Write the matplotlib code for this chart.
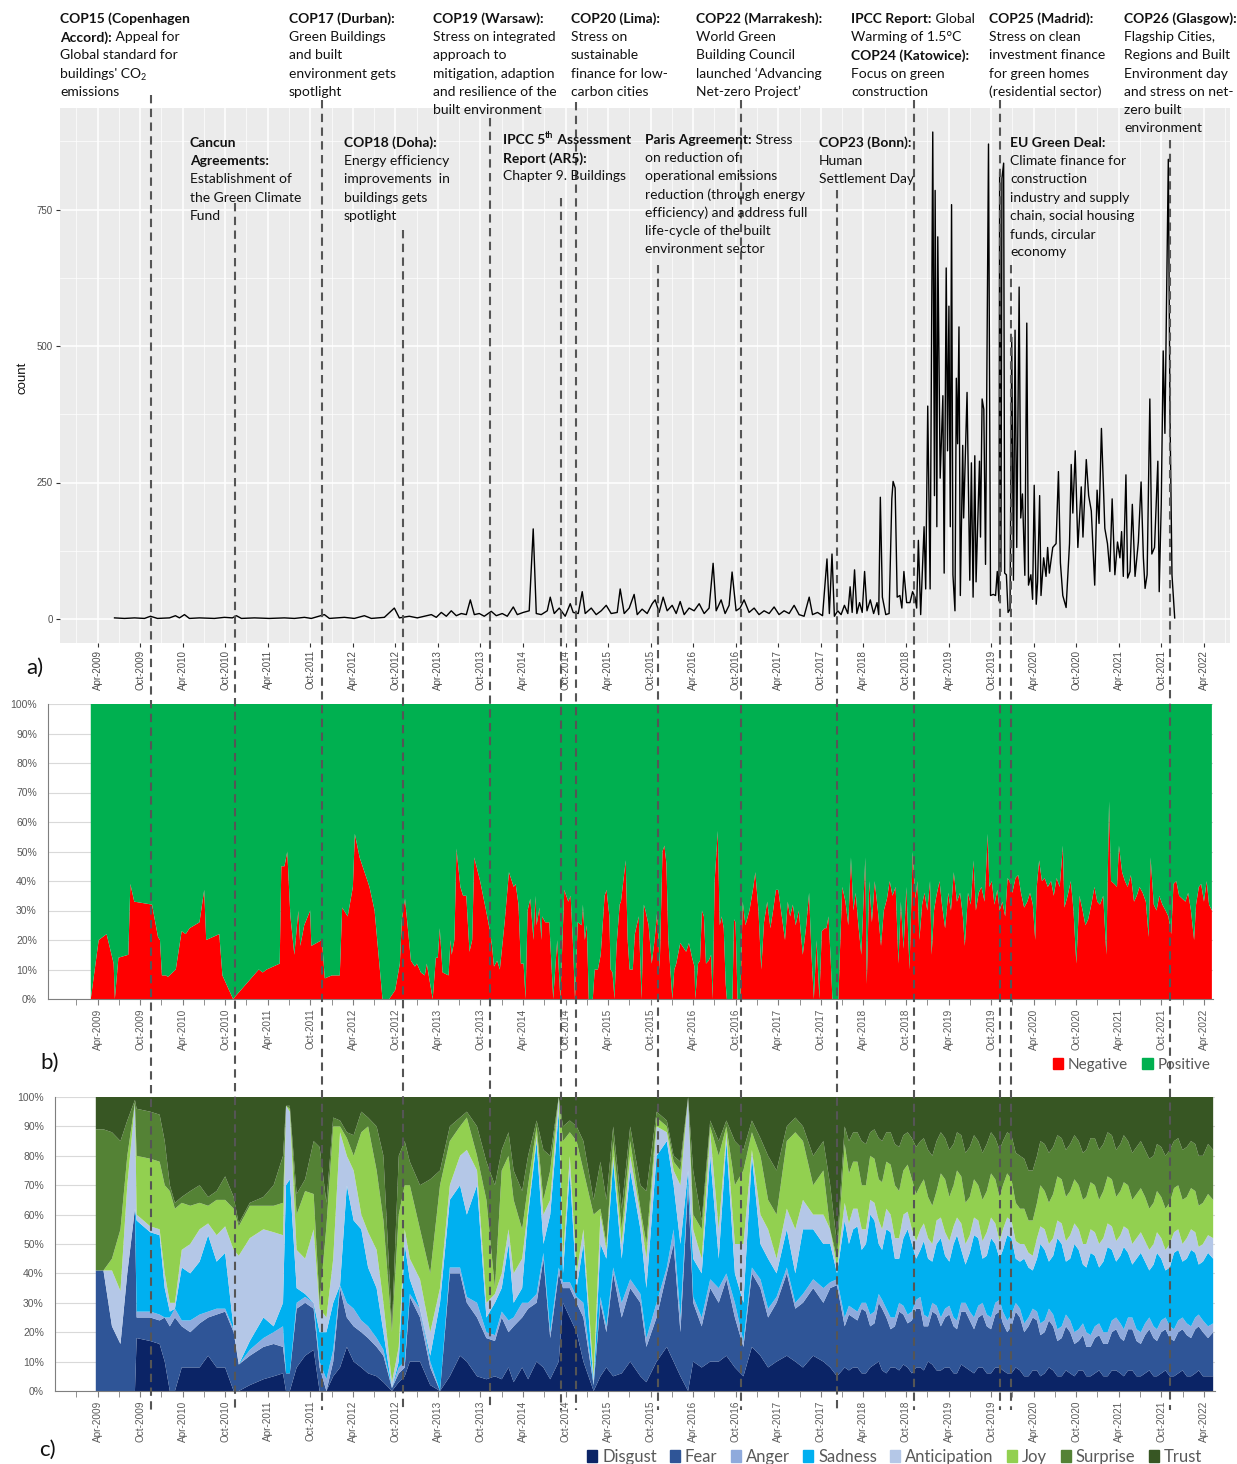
import numpy as np
import matplotlib

matplotlib.use("Agg")
import matplotlib.pyplot as plt
from matplotlib.lines import Line2D
from matplotlib.patches import Patch
from matplotlib.ticker import FixedLocator

W, H = 1237, 1464
TEXT_FONT = ["Lato", "DejaVu Sans"]
TICK_FONT = ["Liberation Sans", "DejaVu Sans"]
INK = "#111111"
plt.rcParams["font.family"] = TEXT_FONT

# ---- a) tweet count (decimal year, count) ----
count_years = [
    2009.450, 2009.567, 2009.685, 2009.802, 2009.872, 2009.955, 2010.096, 2010.166, 2010.213, 2010.272,
    2010.330, 2010.448, 2010.624, 2010.742, 2010.835, 2010.882, 2010.941, 2011.094, 2011.270, 2011.446,
    2011.564, 2011.681, 2011.763, 2011.916, 2011.975, 2012.151, 2012.268, 2012.386, 2012.468, 2012.621,
    2012.738, 2012.797, 2012.914, 2013.008, 2013.090, 2013.173, 2013.231, 2013.290, 2013.349, 2013.407,
    2013.466, 2013.525, 2013.584, 2013.631, 2013.678, 2013.736, 2013.795, 2013.877, 2013.936, 2014.006,
    2014.065, 2014.136, 2014.183, 2014.253, 2014.323, 2014.370, 2014.406, 2014.464, 2014.535, 2014.570,
    2014.617, 2014.676, 2014.746, 2014.805, 2014.840, 2014.899, 2014.946, 2014.981, 2015.052, 2015.110,
    2015.169, 2015.228, 2015.286, 2015.357, 2015.392, 2015.439, 2015.498, 2015.556, 2015.592, 2015.650,
    2015.709, 2015.768, 2015.803, 2015.850, 2015.897, 2015.944, 2016.003, 2016.050, 2016.097, 2016.144,
    2016.202, 2016.261, 2016.320, 2016.379, 2016.437, 2016.484, 2016.520, 2016.578, 2016.625, 2016.672,
    2016.707, 2016.754, 2016.801, 2016.848, 2016.907, 2016.966, 2017.024, 2017.083, 2017.142, 2017.201,
    2017.259, 2017.318, 2017.377, 2017.436,
    2017.494, 2017.553, 2017.613, 2017.652, 2017.711, 2017.770, 2017.822, 2017.850, 2017.881, 2017.909,
    2017.948, 2017.988, 2018.027, 2018.067, 2018.094, 2018.118, 2018.146, 2018.173, 2018.205, 2018.236,
    2018.264, 2018.292, 2018.331, 2018.370, 2018.410, 2018.430, 2018.449, 2018.473, 2018.513, 2018.552,
    2018.584, 2018.599, 2018.623, 2018.647, 2018.679, 2018.702, 2018.726, 2018.758, 2018.797, 2018.828,
    2018.856, 2018.876, 2018.896, 2018.923, 2018.963, 2018.982, 2019.006, 2019.034, 2019.065, 2019.085,
    2019.093, 2019.113, 2019.124, 2019.152, 2019.184, 2019.199, 2019.223, 2019.239, 2019.255, 2019.271,
    2019.286, 2019.302, 2019.326, 2019.342, 2019.357, 2019.373, 2019.389, 2019.417, 2019.428, 2019.468,
    2019.500, 2019.519, 2019.539, 2019.559, 2019.574, 2019.614, 2019.626, 2019.645, 2019.665, 2019.685,
    2019.720, 2019.744, 2019.776, 2019.803, 2019.823, 2019.843, 2019.851, 2019.866, 2019.878, 2019.898,
    2019.910, 2019.930, 2019.950, 2019.973, 2019.993, 2020.013, 2020.032, 2020.052, 2020.080, 2020.099,
    2020.119, 2020.147, 2020.170, 2020.190, 2020.218, 2020.238, 2020.257, 2020.281, 2020.297, 2020.321,
    2020.337, 2020.368, 2020.396, 2020.415, 2020.435, 2020.475, 2020.514, 2020.542, 2020.565, 2020.593,
    2020.632, 2020.672, 2020.692, 2020.711, 2020.739, 2020.770, 2020.810, 2020.830, 2020.869, 2020.897,
    2020.928, 2020.968, 2020.996, 2021.019, 2021.047, 2021.087, 2021.118, 2021.146, 2021.173, 2021.205,
    2021.236, 2021.264, 2021.284, 2021.304, 2021.335, 2021.355, 2021.383, 2021.410, 2021.442, 2021.481,
    2021.513, 2021.540, 2021.560, 2021.584, 2021.616, 2021.639, 2021.671, 2021.710, 2021.726, 2021.750,
    2021.773, 2021.793, 2021.833, 2021.852, 2021.876, 2021.908,
]
count_values = [
    2, 1, 2, 1, 5, 1, 2, 6, 2, 8,
    1, 2, 1, 3, 2, 6, 1, 2, 1, 2,
    1, 3, 1, 8, 1, 3, 1, 6, 1, 3,
    20, 2, 5, 2, 5, 8, 3, 12, 5, 15,
    6, 10, 8, 35, 8, 10, 5, 14, 6, 10,
    5, 22, 8, 12, 15, 165, 10, 8, 15, 40,
    10, 20, 5, 28, 12, 10, 50, 10, 20, 8,
    15, 25, 10, 12, 55, 10, 20, 45, 8, 18,
    10, 28, 35, 12, 40, 15, 25, 10, 32, 8,
    20, 15, 28, 10, 20, 102, 15, 35, 10, 25,
    86, 15, 20, 35, 12, 20, 8, 15, 10, 22,
    8, 15, 10, 25,
    8, 5, 40, 8, 12, 6, 110, 10, 119, 5,
    15, 8, 25, 10, 59, 12, 90, 10, 30, 12,
    87, 15, 35, 10, 30, 8, 223, 40, 8, 10,
    220, 252, 240, 40, 43, 20, 87, 30, 30, 50,
    40, 20, 144, 8, 169, 55, 390, 55, 892, 226,
    785, 169, 700, 258, 409, 84, 643, 308, 573, 169,
    759, 81, 15, 441, 321, 535, 43, 318, 185, 415,
    71, 286, 40, 299, 68, 289, 150, 403, 384, 100,
    870, 43, 45, 43, 87, 33, 819, 87, 807, 835,
    84, 81, 12, 18, 516, 71, 529, 131, 608, 185,
    229, 80, 542, 62, 81, 36, 245, 27, 68, 226,
    43, 112, 78, 131, 84, 131, 138, 270, 103, 43,
    21, 138, 283, 194, 308, 131, 242, 150, 292, 226,
    198, 62, 236, 175, 349, 166, 138, 87, 220, 81,
    141, 112, 160, 78, 264, 75, 87, 210, 78, 141,
    251, 112, 56, 81, 403, 119, 131, 289, 50, 210,
    491, 340, 842, 384, 81, 2,
]

# ---- b) sentiment share, negative % (positive is the rest) ----
sent_years = [
    2009.171, 2009.264, 2009.357, 2009.440, 2009.454, 2009.496, 2009.612, 2009.636, 2009.682, 2009.891,
    2009.961, 2009.984, 2010.007, 2010.054, 2010.077, 2010.170, 2010.239, 2010.286, 2010.332, 2010.448,
    2010.504, 2010.527, 2010.681, 2010.718, 2010.843, 2011.145, 2011.192, 2011.238, 2011.391, 2011.410,
    2011.447, 2011.480, 2011.517, 2011.563, 2011.610, 2011.633, 2011.679, 2011.749, 2011.763, 2011.888,
    2011.921, 2012.004, 2012.097, 2012.125, 2012.190, 2012.251, 2012.274, 2012.330, 2012.423, 2012.446,
    2012.506, 2012.599, 2012.678, 2012.748, 2012.803, 2012.827, 2012.864, 2012.933, 2012.980, 2013.003,
    2013.050, 2013.096, 2013.119, 2013.189, 2013.226, 2013.249, 2013.272, 2013.305, 2013.375, 2013.398,
    2013.412, 2013.444, 2013.468, 2013.514, 2013.546, 2013.584, 2013.621, 2013.653, 2013.677, 2013.746,
    2013.816, 2013.862, 2013.886, 2013.909, 2013.946, 2013.978, 2014.034, 2014.085, 2014.141, 2014.164,
    2014.197, 2014.225, 2014.257, 2014.280, 2014.304, 2014.336, 2014.373, 2014.396, 2014.410, 2014.443,
    2014.466, 2014.475, 2014.512, 2014.559, 2014.605, 2014.652, 2014.689, 2014.735, 2014.782, 2014.810,
    2014.838, 2014.861, 2014.893, 2014.940, 2014.954, 2014.977, 2015.000, 2015.023, 2015.070, 2015.093,
    2015.130, 2015.163, 2015.209, 2015.232, 2015.265, 2015.279, 2015.302, 2015.325, 2015.349, 2015.386,
    2015.401, 2015.457, 2015.480, 2015.503, 2015.540, 2015.564, 2015.610, 2015.643, 2015.670, 2015.689,
    2015.726, 2015.763, 2015.796, 2015.828, 2015.856, 2015.889, 2015.912, 2015.935, 2015.958, 2016.005,
    2016.028, 2016.051, 2016.098, 2016.121, 2016.167, 2016.200, 2016.237, 2016.265, 2016.274, 2016.307,
    2016.330, 2016.353, 2016.376, 2016.400, 2016.432, 2016.460, 2016.479, 2016.502, 2016.539, 2016.562,
    2016.585, 2016.609, 2016.632, 2016.646, 2016.711, 2016.730, 2016.748, 2016.771, 2016.804, 2016.832,
    2016.864, 2016.911, 2016.957, 2016.980, 2017.017, 2017.050, 2017.082, 2017.120, 2017.157, 2017.189,
    2017.222, 2017.250, 2017.282, 2017.329, 2017.361, 2017.389, 2017.421, 2017.454, 2017.491, 2017.538,
    2017.575, 2017.612, 2017.640, 2017.668, 2017.700, 2017.733, 2017.761, 2017.793, 2017.816, 2017.840,
    2017.863, 2017.886, 2017.956, 2017.979, 2018.002, 2018.039, 2018.072, 2018.104, 2018.132, 2018.160,
    2018.188, 2018.225, 2018.244, 2018.272, 2018.290, 2018.318, 2018.350, 2018.383, 2018.420, 2018.457,
    2018.490, 2018.527, 2018.559, 2018.592, 2018.629, 2018.662, 2018.690, 2018.722, 2018.755, 2018.792,
    2018.829, 2018.861, 2018.885, 2018.908, 2018.940, 2018.968, 2019.001, 2019.033, 2019.052, 2019.080,
    2019.108, 2019.145, 2019.173, 2019.210, 2019.247, 2019.279, 2019.312, 2019.349, 2019.386, 2019.419,
    2019.442, 2019.479, 2019.512, 2019.544, 2019.572, 2019.605, 2019.637, 2019.674, 2019.711, 2019.730,
    2019.758, 2019.790, 2019.823, 2019.851, 2019.883, 2019.916, 2019.944, 2019.967, 2020.000, 2020.037,
    2020.069, 2020.102, 2020.139, 2020.176, 2020.208, 2020.241, 2020.269, 2020.287, 2020.315, 2020.348,
    2020.380, 2020.417, 2020.455, 2020.487, 2020.520, 2020.557, 2020.594, 2020.612, 2020.650, 2020.687,
    2020.719, 2020.752, 2020.789, 2020.826, 2020.859, 2020.891, 2020.928, 2020.965, 2020.998, 2021.030,
    2021.068, 2021.105, 2021.137, 2021.160, 2021.198, 2021.230, 2021.253, 2021.290, 2021.323, 2021.355,
    2021.393, 2021.430, 2021.462, 2021.495, 2021.532, 2021.569, 2021.602, 2021.625, 2021.662, 2021.695,
    2021.727, 2021.764, 2021.801, 2021.834, 2021.867, 2021.894, 2021.927, 2021.960, 2021.997, 2022.034,
    2022.066, 2022.099, 2022.136, 2022.159, 2022.192, 2022.219, 2022.252, 2022.284, 2022.312, 2022.345,
]
negative_pct = [
    0, 20, 22, 12, 0, 14, 15, 39, 33, 32,
    21, 20, 8, 8, 7.5, 10, 23, 22, 24, 26,
    37, 20, 22, 8, 0, 10, 9, 10, 12, 45,
    45, 50, 28, 15, 30, 18, 25, 30, 18, 20,
    7, 8, 8, 31, 28, 38, 56, 48, 40, 38,
    30, 0, 0, 3, 12, 27, 34, 13, 11, 12,
    9, 8, 12, 0, 14, 14, 24, 9, 8, 20,
    15, 20, 51, 38, 35, 35, 16, 20, 48, 40,
    30, 23, 18, 11, 13, 10, 26, 43, 38, 39,
    32, 12, 12, 0, 30, 34, 20, 35, 25, 31,
    20, 28, 26, 26, 0, 20, 0, 37, 33, 35,
    18, 0, 26, 25, 32, 20, 25, 0, 0, 10,
    10, 15, 35, 37, 28, 10, 9, 0, 18, 32,
    33, 47, 20, 10, 10, 22, 28, 0, 32, 30,
    25, 12, 20, 30, 10, 50, 52, 46, 20, 0,
    10, 12, 19, 18, 16, 19, 14, 11, 0, 12,
    13, 30, 28, 12, 13, 15, 0, 40, 57, 25,
    28, 24, 5, 0, 0, 27, 26, 0, 0, 33,
    25, 30, 38, 43, 30, 10, 26, 33, 24, 30,
    37, 37, 30, 20, 33, 28, 32, 25, 30, 15,
    24, 36, 15, 0, 20, 0, 23, 24, 24, 28,
    15, 0, 0, 20, 38, 33, 25, 48, 30, 36,
    26, 15, 28, 48, 5, 40, 26, 40, 30, 18,
    30, 34, 40, 35, 38, 12, 33, 17, 38, 10,
    50, 34, 40, 20, 32, 36, 30, 40, 15, 30,
    35, 40, 32, 24, 36, 30, 43, 33, 36, 28,
    18, 36, 32, 47, 30, 36, 38, 33, 56, 38,
    40, 32, 37, 30, 33, 28, 41, 40, 36, 41,
    42, 36, 31, 33, 36, 32, 20, 38, 47, 40,
    41, 38, 40, 35, 41, 38, 52, 31, 35, 40,
    30, 12, 35, 30, 25, 27, 32, 38, 33, 32,
    35, 15, 67, 40, 39, 38, 52, 43, 40, 38,
    42, 33, 35, 38, 36, 33, 21, 48, 32, 30,
    35, 32, 30, 28, 22, 39, 40, 35, 34, 33,
    36, 30, 20, 32, 38, 39, 33, 40, 32, 30,
]

# ---- c) emotion shares: cumulative band tops in % (Trust fills to 100) ----
emo_years = [
    2009.23, 2009.32, 2009.42, 2009.52, 2009.60, 2009.69, 2009.71, 2009.87, 2009.98, 2010.04,
    2010.10, 2010.16, 2010.24, 2010.34, 2010.45, 2010.55, 2010.65, 2010.75, 2010.85, 2010.91,
    2011.04, 2011.20, 2011.32, 2011.43, 2011.465, 2011.51, 2011.59, 2011.69, 2011.79, 2011.86,
    2011.94, 2012.02, 2012.10, 2012.18, 2012.26, 2012.35, 2012.43, 2012.53, 2012.61, 2012.71,
    2012.79, 2012.86, 2012.92, 2013.04, 2013.16, 2013.275, 2013.39, 2013.51, 2013.59, 2013.71,
    2013.82, 2013.92, 2014.00, 2014.08, 2014.14, 2014.24, 2014.31, 2014.41, 2014.49, 2014.57,
    2014.67, 2014.72, 2014.80, 2014.88, 2014.96, 2015.08, 2015.16, 2015.23, 2015.31, 2015.41,
    2015.51, 2015.63, 2015.70, 2015.82, 2015.94, 2016.02, 2016.10, 2016.19, 2016.25, 2016.35,
    2016.45, 2016.55, 2016.64, 2016.74, 2016.84, 2016.94, 2017.04, 2017.13, 2017.23, 2017.35,
    2017.45, 2017.54, 2017.66, 2017.78, 2017.86, 2017.94,
    2018.03, 2018.08, 2018.13, 2018.18, 2018.23, 2018.28, 2018.33, 2018.38, 2018.43, 2018.47,
    2018.52, 2018.57, 2018.62, 2018.67, 2018.72, 2018.77, 2018.82, 2018.87, 2018.92, 2018.96,
    2019.01, 2019.06, 2019.11, 2019.16, 2019.21, 2019.26, 2019.31, 2019.35, 2019.40, 2019.45,
    2019.50, 2019.55, 2019.60, 2019.65, 2019.70, 2019.75, 2019.80, 2019.85, 2019.89, 2019.94,
    2019.99, 2020.04, 2020.09, 2020.14, 2020.19, 2020.24, 2020.29, 2020.33, 2020.38, 2020.43,
    2020.48, 2020.53, 2020.58, 2020.63, 2020.68, 2020.73, 2020.78, 2020.83, 2020.87, 2020.92,
    2020.97, 2021.02, 2021.07, 2021.12, 2021.17, 2021.22, 2021.27, 2021.31, 2021.36, 2021.41,
    2021.46, 2021.51, 2021.56, 2021.61, 2021.66, 2021.70, 2021.75, 2021.80, 2021.85, 2021.90,
    2021.95, 2022.00, 2022.05, 2022.10, 2022.15, 2022.19, 2022.24, 2022.30, 2022.36,
]
cum_disgust = [
    0, 0, 0, 0, 0, 0, 18, 17, 16, 10,
    0, 0, 8, 8, 8, 12, 8, 8, 0, 0,
    2, 4, 5, 6, 0, 0, 8, 12, 14, 0,
    0, 5, 8, 15, 10, 8, 6, 5, 3, 0,
    3, 5, 10, 10, 2, 0, 5, 12, 10, 5,
    4, 5, 4, 8, 3, 8, 4, 10, 8, 4,
    10, 30, 25, 20, 10, 0, 5, 8, 5, 6,
    10, 5, 3, 10, 15, 10, 5, 0, 10, 8,
    10, 10, 12, 8, 5, 15, 12, 8, 10, 12,
    10, 8, 12, 10, 8, 5,
    8, 7, 8, 8, 6, 6, 8, 9, 10, 7,
    6, 8, 8, 7, 9, 8, 6, 8, 8, 7,
    10, 9, 7, 7, 8, 8, 6, 6, 9, 8,
    7, 6, 8, 8, 6, 6, 8, 8, 7, 6,
    6, 8, 7, 5, 5, 7, 7, 5, 6, 8,
    7, 5, 5, 7, 6, 5, 7, 7, 5, 5,
    6, 7, 5, 5, 7, 7, 6, 5, 7, 7,
    5, 5, 6, 7, 5, 5, 6, 7, 5, 5,
    6, 7, 5, 5, 6, 7, 5, 5, 5,
]
cum_fear = [
    41, 41, 22, 16, 40, 62, 25, 25, 24, 25,
    22, 25, 22, 20, 23, 25, 26, 27, 20, 9,
    12, 15, 16, 15, 6, 6, 28, 30, 28, 8,
    0, 10, 35, 25, 22, 20, 18, 15, 12, 1,
    6, 8, 32, 25, 8, 0, 40, 40, 30, 25,
    18, 17, 25, 20, 22, 25, 28, 30, 45, 18,
    40, 35, 35, 30, 25, 2, 30, 20, 40, 25,
    35, 30, 15, 25, 40, 50, 20, 70, 30, 22,
    35, 30, 38, 25, 15, 40, 35, 25, 30, 40,
    28, 30, 35, 30, 35, 36,
    22, 26, 25, 24, 28, 27, 22, 23, 30, 28,
    25, 21, 22, 27, 26, 23, 24, 28, 28, 22,
    22, 27, 26, 22, 25, 26, 22, 21, 27, 27,
    24, 21, 25, 26, 22, 21, 26, 27, 23, 20,
    22, 27, 25, 20, 22, 25, 24, 19, 20, 24,
    22, 17, 18, 22, 20, 16, 17, 19, 15, 15,
    18, 19, 16, 16, 20, 21, 18, 17, 21, 21,
    17, 16, 19, 21, 18, 17, 20, 21, 18, 17,
    20, 21, 19, 18, 21, 22, 20, 18, 20,
]
cum_anger = [
    41, 41, 22, 16, 40, 62, 27, 27, 26, 25,
    25, 28, 24, 24, 26, 27, 28, 28, 21, 9,
    14, 18, 20, 22, 6, 6, 30, 32, 30, 10,
    4, 14, 36, 30, 28, 24, 22, 18, 14, 1,
    8, 10, 33, 28, 10, 0, 42, 42, 32, 30,
    20, 19, 27, 24, 25, 30, 30, 33, 47, 20,
    42, 37, 37, 32, 30, 2, 32, 22, 42, 30,
    38, 33, 18, 30, 42, 55, 25, 72, 32, 25,
    38, 35, 40, 30, 17, 42, 38, 28, 32, 42,
    30, 33, 38, 35, 37, 38,
    25, 29, 28, 27, 30, 30, 26, 27, 33, 31,
    28, 25, 25, 30, 29, 26, 27, 31, 32, 26,
    25, 30, 29, 25, 28, 29, 25, 24, 30, 30,
    27, 25, 29, 30, 26, 25, 30, 31, 27, 24,
    26, 30, 28, 23, 25, 28, 27, 23, 24, 28,
    26, 21, 22, 26, 24, 20, 21, 23, 20, 19,
    22, 23, 20, 20, 24, 25, 23, 21, 25, 25,
    21, 20, 23, 25, 22, 21, 24, 25, 22, 21,
    24, 25, 23, 22, 25, 26, 24, 22, 23,
]
cum_sadness = [
    41, 41, 22, 16, 40, 62, 58, 54, 53, 35,
    27, 28, 42, 40, 44, 53, 44, 47, 21, 9,
    17, 25, 22, 30, 70, 72, 35, 33, 30, 20,
    20, 30, 36, 70, 58, 55, 42, 35, 20, 1,
    10, 50, 38, 28, 12, 30, 65, 70, 60, 70,
    25, 30, 35, 50, 30, 35, 60, 85, 50, 60,
    95, 40, 75, 35, 50, 2, 50, 45, 78, 45,
    75, 55, 35, 80, 85, 70, 50, 75, 45, 40,
    80, 45, 85, 40, 30, 80, 50, 45, 40, 55,
    40, 55, 55, 50, 50, 40,
    58, 50, 55, 56, 48, 50, 60, 58, 50, 48,
    55, 54, 45, 45, 52, 55, 50, 45, 48, 51,
    45, 44, 50, 52, 46, 44, 50, 53, 48, 43,
    47, 53, 52, 45, 46, 52, 50, 45, 48, 53,
    52, 45, 44, 45, 42, 41, 45, 50, 48, 44,
    46, 52, 50, 44, 45, 50, 48, 43, 42, 47,
    46, 42, 44, 49, 48, 44, 46, 49, 47, 43,
    45, 47, 44, 41, 43, 47, 45, 41, 42, 47,
    48, 44, 45, 48, 47, 43, 44, 47, 45,
]
cum_anticipation = [
    41, 41, 41, 34, 70, 98, 60, 56, 55, 40,
    30, 30, 48, 50, 55, 57, 53, 56, 48, 46,
    52, 55, 54, 53, 97, 95, 48, 45, 55, 28,
    25, 45, 88, 80, 75, 60, 54, 48, 30, 3,
    15, 55, 45, 38, 20, 35, 70, 80, 82, 75,
    30, 33, 40, 55, 40, 45, 62, 87, 60, 65,
    100, 45, 80, 40, 55, 5, 60, 48, 80, 50,
    80, 60, 45, 90, 88, 75, 70, 100, 55, 45,
    88, 55, 88, 50, 50, 82, 60, 55, 45, 62,
    55, 65, 60, 60, 55, 42,
    64, 57, 62, 62, 55, 55, 65, 64, 58, 55,
    62, 60, 52, 52, 60, 61, 55, 51, 55, 57,
    52, 50, 58, 59, 54, 51, 56, 59, 57, 50,
    53, 59, 58, 51, 54, 59, 57, 51, 55, 59,
    58, 51, 50, 50, 47, 46, 52, 56, 55, 50,
    52, 58, 57, 51, 53, 57, 55, 50, 50, 55,
    54, 50, 52, 57, 56, 51, 53, 56, 55, 50,
    52, 54, 51, 48, 50, 54, 52, 48, 50, 54,
    55, 50, 52, 55, 54, 49, 50, 53, 52,
]
cum_joy = [
    41, 41, 45, 55, 80, 98, 80, 79, 78, 70,
    68, 62, 64, 63, 64, 63, 65, 65, 62, 56,
    63, 63, 63, 64, 97, 96, 60, 68, 67, 30,
    56, 90, 90, 86, 80, 88, 90, 75, 58, 20,
    60, 70, 70, 55, 40, 70, 85, 90, 93, 80,
    65, 35, 75, 80, 65, 55, 70, 90, 65, 75,
    100, 85, 88, 85, 75, 60, 62, 50, 85, 55,
    85, 62, 50, 93, 90, 78, 75, 100, 60, 55,
    90, 80, 90, 70, 75, 88, 80, 65, 60, 85,
    88, 85, 70, 75, 55, 45,
    84, 74, 78, 78, 70, 70, 80, 79, 72, 71,
    78, 77, 70, 68, 75, 77, 72, 67, 70, 72,
    66, 63, 68, 74, 72, 66, 70, 75, 73, 64,
    66, 72, 70, 65, 68, 74, 72, 66, 70, 74,
    72, 64, 62, 62, 58, 58, 64, 70, 68, 64,
    67, 73, 72, 66, 68, 72, 70, 65, 66, 71,
    70, 65, 68, 73, 72, 66, 68, 71, 70, 65,
    67, 69, 66, 62, 64, 68, 66, 62, 64, 69,
    70, 65, 66, 69, 68, 63, 64, 67, 65,
]
cum_surprise = [
    89, 89, 88, 85, 92, 99, 96, 95, 94, 85,
    70, 64, 66, 68, 70, 66, 68, 73, 66, 57,
    64, 66, 70, 80, 97, 97, 67, 72, 85, 83,
    64, 93, 92, 88, 87, 95, 93, 90, 80, 22,
    80, 85, 78, 70, 72, 75, 90, 93, 95, 90,
    78, 70, 82, 88, 75, 68, 80, 92, 82, 80,
    100, 90, 92, 90, 85, 65, 78, 65, 90, 62,
    90, 70, 68, 95, 92, 80, 78, 100, 75, 58,
    92, 85, 92, 85, 82, 92, 86, 80, 75, 90,
    93, 90, 80, 85, 70, 50,
    90, 85, 88, 88, 85, 84, 88, 89, 86, 85,
    88, 88, 84, 83, 87, 88, 86, 83, 85, 86,
    82, 80, 85, 88, 86, 82, 84, 88, 87, 81,
    83, 87, 85, 81, 84, 88, 86, 82, 85, 88,
    87, 81, 80, 79, 75, 75, 80, 85, 84, 81,
    83, 87, 86, 82, 84, 87, 85, 81, 82, 86,
    86, 82, 84, 88, 87, 82, 84, 87, 85, 81,
    83, 85, 82, 79, 80, 84, 83, 80, 82, 85,
    86, 82, 83, 85, 84, 80, 80, 84, 82,
]
emotions = ["Disgust", "Fear", "Anger", "Sadness", "Anticipation", "Joy", "Surprise", "Trust"]
emotion_colors = ["#0b2466", "#2f5597", "#8faadc", "#00b0f0", "#b4c7e7", "#92d050", "#548235", "#375623"]

# ---- event markers (decimal year) ----
event_years = [2009.88, 2010.87, 2011.89, 2012.84, 2013.86, 2014.70, 2014.87,
               2015.84, 2016.81, 2017.94, 2018.85, 2019.85, 2019.99, 2021.85]
event_line_top_px = [95, 203, 100, 230, 118, 198, 102, 265, 100, 190, 100, 100, 265, 140]

tick_years = [2009.25 + 0.5 * i for i in range(27)]
tick_labels = [("Apr-" if i % 2 == 0 else "Oct-") + str(2009 + i // 2) for i in range(27)]
minor_years = [2009.0 + 0.5 * i for i in range(28)]

# annotation blocks: (x px, first line centre y px, lines of (text, style))
B, N = "b", "n"
ANNOTATIONS = [
    (60, 19, [[("COP15 (Copenhagen", B)], [("Accord):", B), (" Appeal for", N)],
              [("Global standard for", N)], [("buildings' CO", N), ("2", "sub")], [("emissions", N)]]),
    (289, 19, [[("COP17 (Durban):", B)], [("Green Buildings", N)], [("and built", N)],
               [("environment gets", N)], [("spotlight", N)]]),
    (433, 19, [[("COP19 (Warsaw):", B)], [("Stress on integrated", N)], [("approach to", N)],
               [("mitigation, adaption", N)], [("and resilience of the", N)], [("built environment", N)]]),
    (571, 19, [[("COP20 (Lima):", B)], [("Stress on", N)], [("sustainable", N)],
               [("finance for low-", N)], [("carbon cities", N)]]),
    (696, 19, [[("COP22 (Marrakesh):", B)], [("World Green", N)], [("Building Council", N)],
               [("launched \u2018Advancing", N)], [("Net-zero Project\u2019", N)]]),
    (851, 19, [[("IPCC Report:", B), (" Global", N)], [("Warming of 1.5\u00b0C", N)],
               [("COP24 (Katowice):", B)], [("Focus on green", N)], [("construction", N)]]),
    (989, 19, [[("COP25 (Madrid):", B)], [("Stress on clean", N)], [("investment finance", N)],
               [("for green homes", N)], [("(residential sector)", N)]]),
    (1124, 19, [[("COP26 (Glasgow):", B)], [("Flagship Cities,", N)], [("Regions and Built", N)],
                [("Environment day", N)], [("and stress on net-", N)], [("zero built", N)],
                [("environment", N)]]),
    (190, 143, [[("Cancun", B)], [("Agreements:", B)], [("Establishment of", N)],
                [("the Green Climate", N)], [("Fund", N)]]),
    (344, 143, [[("COP18 (Doha):", B)], [("Energy efficiency", N)], [("improvements  in", N)],
                [("buildings gets", N)], [("spotlight", N)]]),
    (503, 140, [[("IPCC 5", B), ("th", "sup"), (" Assessment", B)], [("Report (AR5):", B)],
                [("Chapter 9. Buildings", N)]]),
    (645, 140, [[("Paris Agreement:", B), (" Stress", N)], [("on reduction of", N)],
                [("operational emissions", N)], [("reduction (through energy", N)],
                [("efficiency) and address full", N)], [("life-cycle of the built", N)],
                [("environment sector", N)]]),
    (819, 143, [[("COP23 (Bonn):", B)], [("Human", N)], [("Settlement Day", N)]]),
    (1010, 143, [[("EU Green Deal:", B)], [("Climate finance for", N)], [("construction", N)],
                 [("industry and supply", N)], [("chain, social housing", N)],
                 [("funds, circular", N)], [("economy", N)]]),
]


def px_rect(left, top, right, bottom):
    return [left / W, 1 - bottom / H, (right - left) / W, (bottom - top) / H]


def px_year(px):
    return 2009.25 + (px - 97.5) / 85.1


def style_excel_axis(ax, left_px, right_px):
    ax.set_xlim(px_year(left_px), px_year(right_px))
    ax.set_ylim(0, 100)
    ax.set_yticks(range(0, 101, 10))
    ax.set_yticklabels([f"{v}%" for v in range(0, 101, 10)])
    ax.grid(axis="y", color="#d9d9d9", linewidth=0.8)
    ax.set_axisbelow(True)
    for s in ("top", "right"):
        ax.spines[s].set_visible(False)
    for s in ("left", "bottom"):
        ax.spines[s].set_color("#7f7f7f")
    ax.xaxis.set_major_locator(FixedLocator(tick_years))
    ax.xaxis.set_minor_locator(FixedLocator(minor_years))
    ax.set_xticklabels(tick_labels, rotation=90, fontfamily=TICK_FONT)
    ax.tick_params(axis="x", which="both", length=4, color="#7f7f7f",
                   labelsize=7.2, labelcolor="#595959", pad=3)
    ax.tick_params(axis="y", length=0, labelsize=7.5, labelcolor="#595959", pad=8)
    for lab in ax.get_yticklabels():
        lab.set_fontfamily(TICK_FONT)


fig = plt.figure(figsize=(W / 100, H / 100), dpi=100, facecolor="white")

# ---- panel a ----
ax_a = fig.add_axes(px_rect(60, 108, 1230, 643))
ax_a.set_facecolor("#ebebeb")
ax_a.plot(count_years, count_values, color="black", linewidth=1.0)
ax_a.set_xlim(px_year(60), px_year(1230))
ax_a.set_ylim(-44, 936)
ax_a.yaxis.set_major_locator(FixedLocator([0, 250, 500, 750]))
ax_a.yaxis.set_minor_locator(FixedLocator([125, 375, 625, 875]))
ax_a.xaxis.set_major_locator(FixedLocator(tick_years))
ax_a.xaxis.set_minor_locator(FixedLocator(minor_years))
ax_a.set_xticklabels(tick_labels, rotation=90, fontfamily=TICK_FONT)
for lab in ax_a.get_yticklabels():
    lab.set_fontfamily(TICK_FONT)
ax_a.grid(which="major", color="white", linewidth=1.1)
ax_a.grid(which="minor", color="white", linewidth=0.5)
ax_a.set_axisbelow(True)
for s in ax_a.spines.values():
    s.set_visible(False)
ax_a.tick_params(which="major", length=3, color="#333333", labelsize=7,
                 labelcolor="#4d4d4d", pad=2)
ax_a.tick_params(which="minor", length=0)
fig.text(22 / W, 1 - 378 / H, "count", rotation=90, fontsize=9.5,
         family=TICK_FONT, va="center", ha="center", color=INK)

# ---- panel b ----
ax_b = fig.add_axes(px_rect(48, 704, 1213, 999))
neg = np.array(negative_pct, dtype=float)
ax_b.stackplot(sent_years, neg, 100 - neg, colors=["#ff0000", "#00b050"], linewidth=0)
style_excel_axis(ax_b, 48, 1213)
fig.legend(handles=[Patch(color="#ff0000"), Patch(color="#00b050")],
           labels=["Negative", "Positive"], loc="center left",
           bbox_to_anchor=(1039 / W, 1 - 1065 / H), ncol=2, frameon=False,
           fontsize=11, handlelength=0.7, handleheight=0.7, handletextpad=0.3,
           columnspacing=0.9, labelcolor="#595959")

# ---- panel c ----
ax_c = fig.add_axes(px_rect(55, 1097, 1215, 1391))
tops = np.vstack([cum_disgust, cum_fear, cum_anger, cum_sadness, cum_anticipation,
                  cum_joy, cum_surprise, np.full(len(emo_years), 100.0)]).astype(float)
shares = np.clip(np.diff(np.vstack([np.zeros(len(emo_years)), tops]), axis=0), 0, None)
ax_c.stackplot(emo_years, *shares, colors=emotion_colors, linewidth=0)
style_excel_axis(ax_c, 55, 1215)
fig.legend(handles=[Patch(color=c) for c in emotion_colors], labels=emotions,
           loc="center left", bbox_to_anchor=(572 / W, 1 - 1457 / H), ncol=8,
           frameon=False, fontsize=12, handlelength=0.6, handleheight=0.7,
           handletextpad=0.3, columnspacing=0.8, labelcolor="#595959")

# panel letters
for lab, (x, y) in zip(["a)", "b)", "c)"], [(35, 668), (50, 1063), (47, 1450)]):
    fig.text(x / W, 1 - y / H, lab, fontsize=16, va="center", ha="center", color=INK)

# ---- event lines across all panels ----
inv = fig.transFigure.inverted()
for yr, top_px in zip(event_years, event_line_top_px):
    xf = inv.transform(ax_a.transData.transform((yr, 0)))[0]
    fig.add_artist(Line2D([xf, xf], [1 - top_px / H, 1 - 1410 / H],
                          transform=fig.transFigure, color="#555555",
                          linewidth=1.5, linestyle=(0, (4, 2.6)), zorder=5))

# ---- annotation text ----
renderer = fig.canvas.get_renderer()
for x0, y0, lines in ANNOTATIONS:
    for i, line in enumerate(lines):
        x = x0
        yc = y0 + i * 18.2
        for text, style in line:
            fs, dy = 10.0, 0
            weight = "bold" if style in (B, "sup") else "normal"
            if style == "sup":
                fs, dy = 6.4, -4.5
            elif style == "sub":
                fs, dy = 6.4, 4
            t = fig.text(x / W, 1 - (yc + dy) / H, text, fontsize=fs, fontweight=weight,
                         family=TEXT_FONT, color=INK, va="center", ha="left", zorder=6)
            x += t.get_window_extent(renderer).width

fig.savefig("out.png", dpi=100, facecolor="white")
